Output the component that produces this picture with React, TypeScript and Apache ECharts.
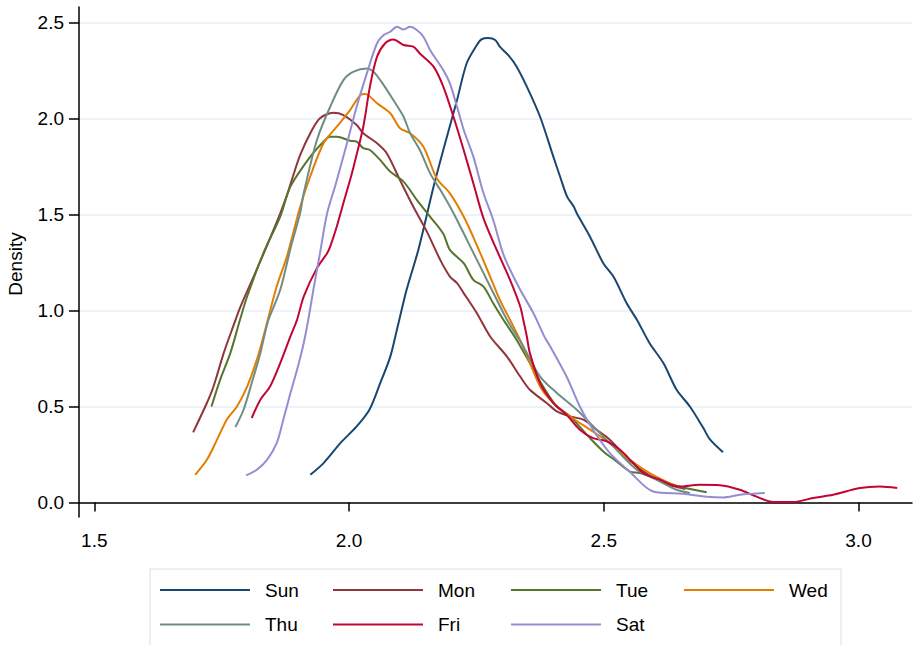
import React, { useEffect, useRef } from "react";
import * as echarts from "echarts";

const seriesNames = ["Sun", "Mon", "Tue", "Wed", "Thu", "Fri", "Sat"];
const seriesColors = ["#1a476f", "#90353b", "#55752f", "#e37e00", "#6e8e84", "#c10534", "#938dd2"];

const xTicks = [1.5, 2.0, 2.5, 3.0];
const yTicks = [0, 0.5, 1.0, 1.5, 2.0, 2.5];
const yTitle = "Density";

const sunData = [
  [1.924, 0.144], [1.95, 0.205], [1.983, 0.309], [2.015, 0.396], [2.04, 0.483], [2.061, 0.62],
  [2.081, 0.76], [2.094, 0.9], [2.113, 1.108], [2.136, 1.316], [2.166, 1.646], [2.185, 1.837],
  [2.212, 2.097], [2.231, 2.289], [2.251, 2.384], [2.26, 2.413], [2.273, 2.42], [2.287, 2.41],
  [2.296, 2.375], [2.313, 2.33], [2.329, 2.271], [2.349, 2.167], [2.375, 2.01], [2.401, 1.802],
  [2.414, 1.7], [2.428, 1.594], [2.441, 1.542], [2.447, 1.507], [2.473, 1.385], [2.499, 1.247],
  [2.519, 1.177], [2.545, 1.038], [2.565, 0.952], [2.59, 0.83], [2.617, 0.726], [2.643, 0.587],
  [2.669, 0.5], [2.695, 0.39], [2.708, 0.33], [2.734, 0.262],
];

const monData = [
  [1.694, 0.365], [1.721, 0.518], [1.734, 0.604], [1.754, 0.778], [1.773, 0.92], [1.786, 1.014],
  [1.813, 1.178], [1.839, 1.339], [1.865, 1.507], [1.878, 1.6], [1.89, 1.7], [1.904, 1.81],
  [1.924, 1.924], [1.943, 2.002], [1.969, 2.031], [1.989, 2.019], [2.015, 1.967], [2.028, 1.924],
  [2.055, 1.872], [2.074, 1.82], [2.1, 1.68], [2.126, 1.542], [2.153, 1.41], [2.179, 1.264],
  [2.198, 1.177], [2.212, 1.143], [2.225, 1.091], [2.251, 0.986], [2.277, 0.865], [2.31, 0.76],
  [2.336, 0.656], [2.355, 0.587], [2.388, 0.518], [2.408, 0.474], [2.434, 0.448], [2.46, 0.431],
  [2.486, 0.379], [2.512, 0.327], [2.55, 0.22], [2.59, 0.14], [2.63, 0.09], [2.66, 0.07],
];

const tueData = [
  [1.73, 0.5], [1.747, 0.639], [1.767, 0.778], [1.786, 0.952], [1.8, 1.073], [1.832, 1.299],
  [1.865, 1.49], [1.885, 1.646], [1.924, 1.802], [1.95, 1.88], [1.963, 1.906], [1.976, 1.906],
  [2.002, 1.885], [2.015, 1.88], [2.028, 1.846], [2.041, 1.837], [2.061, 1.785], [2.081, 1.724],
  [2.107, 1.672], [2.133, 1.577], [2.159, 1.49], [2.185, 1.4], [2.198, 1.316], [2.225, 1.247],
  [2.244, 1.16], [2.264, 1.125], [2.283, 1.038], [2.303, 0.952], [2.329, 0.847], [2.355, 0.726],
  [2.381, 0.604], [2.408, 0.5], [2.434, 0.448], [2.473, 0.335], [2.499, 0.266], [2.525, 0.214],
  [2.551, 0.161], [2.571, 0.153], [2.61, 0.118], [2.648, 0.083], [2.702, 0.053],
];

const wedData = [
  [1.698, 0.144], [1.721, 0.222], [1.741, 0.327], [1.76, 0.431], [1.78, 0.5], [1.8, 0.604],
  [1.819, 0.743], [1.832, 0.865], [1.858, 1.125], [1.878, 1.281], [1.904, 1.54], [1.924, 1.7],
  [1.95, 1.872], [1.976, 1.958], [2.002, 2.045], [2.022, 2.123], [2.032, 2.129], [2.055, 2.08],
  [2.081, 2.028], [2.1, 1.95], [2.12, 1.924], [2.146, 1.854], [2.172, 1.69], [2.198, 1.611],
  [2.225, 1.49], [2.251, 1.34], [2.277, 1.177], [2.296, 1.056], [2.316, 0.952], [2.342, 0.8125],
  [2.375, 0.604], [2.401, 0.518], [2.434, 0.448], [2.473, 0.379], [2.512, 0.309], [2.551, 0.222],
  [2.59, 0.153], [2.629, 0.101], [2.648, 0.083],
];

const thuData = [
  [1.777, 0.393], [1.793, 0.483], [1.809, 0.622], [1.826, 0.778], [1.835, 0.882], [1.842, 0.952],
  [1.865, 1.108], [1.886, 1.333], [1.904, 1.507], [1.911, 1.611], [1.937, 1.889], [1.963, 2.062],
  [1.989, 2.201], [2.009, 2.245], [2.035, 2.262], [2.048, 2.245], [2.068, 2.175], [2.087, 2.097],
  [2.107, 2.01], [2.12, 1.924], [2.139, 1.837], [2.159, 1.716], [2.179, 1.629], [2.198, 1.542],
  [2.212, 1.472], [2.238, 1.333], [2.264, 1.195], [2.29, 1.056], [2.31, 0.952], [2.342, 0.8125],
  [2.375, 0.656], [2.408, 0.57], [2.447, 0.483], [2.486, 0.379], [2.525, 0.274], [2.565, 0.17],
  [2.604, 0.118], [2.643, 0.066], [2.669, 0.049],
];

const friData = [
  [1.809, 0.44], [1.826, 0.535], [1.845, 0.604], [1.865, 0.726], [1.885, 0.865], [1.898, 0.952],
  [1.911, 1.073], [1.937, 1.221], [1.957, 1.299], [1.963, 1.333], [1.976, 1.438], [1.989, 1.56],
  [2.002, 1.68], [2.009, 1.75], [2.028, 1.958], [2.041, 2.167], [2.055, 2.323], [2.071, 2.393],
  [2.087, 2.413], [2.107, 2.384], [2.126, 2.375], [2.139, 2.34], [2.166, 2.271], [2.185, 2.167],
  [2.205, 2.01], [2.225, 1.837], [2.244, 1.663], [2.264, 1.48], [2.287, 1.333], [2.316, 1.16],
  [2.336, 1.021], [2.342, 0.952], [2.349, 0.865], [2.355, 0.778], [2.375, 0.622], [2.401, 0.518],
  [2.427, 0.457], [2.453, 0.379], [2.479, 0.335], [2.506, 0.318], [2.532, 0.274], [2.558, 0.205],
  [2.578, 0.153], [2.61, 0.118], [2.648, 0.083], [2.688, 0.092], [2.728, 0.09], [2.767, 0.066],
  [2.8, 0.03], [2.833, 0.002], [2.872, 0.002], [2.911, 0.023], [2.95, 0.04], [3.003, 0.075],
  [3.042, 0.083], [3.076, 0.075],
];

const satData = [
  [1.798, 0.141], [1.819, 0.17], [1.839, 0.222], [1.858, 0.309], [1.871, 0.431], [1.885, 0.57],
  [1.898, 0.691], [1.911, 0.83], [1.92, 0.952], [1.93, 1.108], [1.943, 1.299], [1.957, 1.507],
  [1.974, 1.66], [1.996, 1.872], [2.015, 2.062], [2.035, 2.236], [2.055, 2.393], [2.068, 2.436],
  [2.081, 2.453], [2.094, 2.479], [2.107, 2.465], [2.12, 2.479], [2.133, 2.462], [2.146, 2.427],
  [2.159, 2.358], [2.185, 2.253], [2.198, 2.184], [2.212, 2.062], [2.225, 1.942], [2.244, 1.802],
  [2.264, 1.611], [2.283, 1.472], [2.3, 1.316], [2.31, 1.247], [2.336, 1.108], [2.362, 0.986],
  [2.385, 0.856], [2.395, 0.8125], [2.427, 0.656], [2.453, 0.5], [2.479, 0.379], [2.512, 0.257],
  [2.551, 0.16], [2.597, 0.057], [2.656, 0.045], [2.702, 0.03], [2.735, 0.026], [2.767, 0.04],
  [2.816, 0.049],
];

const allData = [sunData, monData, tueData, wedData, thuData, friData, satData];

const FONT = "'Liberation Sans', Arial, sans-serif";

export default function App() {
  const ref = useRef<HTMLDivElement>(null);

  useEffect(() => {
    document.body.style.margin = "0";
    const chart = echarts.init(ref.current!, null, { renderer: "svg" });

    const legendCols = [160, 333, 511, 684];
    const legendRows = [590, 624.5];
    const legendGraphics: any[] = [];
    seriesNames.forEach((name, i) => {
      const col = legendCols[i % 4];
      const row = legendRows[Math.floor(i / 4)];
      legendGraphics.push({
        type: "line",
        shape: { x1: col, y1: row, x2: col + 90, y2: row },
        style: { stroke: seriesColors[i], lineWidth: 2 },
      });
      legendGraphics.push({
        type: "text",
        x: col + 105,
        y: row,
        style: {
          text: name,
          fill: "#000",
          font: `19px ${FONT}`,
          textAlign: "left",
          textVerticalAlign: "middle",
        },
      });
    });

    chart.setOption({
      animation: false,
      backgroundColor: "#ffffff",
      grid: { left: 79, right: 2, top: 7, bottom: 128, containLabel: false },
      xAxis: {
        type: "value",
        min: 1.47,
        max: 3.105,
        axisLine: { show: true, lineStyle: { color: "#000", width: 1.5 } },
        axisTick: { show: true, length: 9, lineStyle: { color: "#000", width: 1.5 }, customValues: xTicks },
        axisLabel: {
          customValues: xTicks,
          margin: 14,
          color: "#000",
          fontSize: 19,
          fontFamily: FONT,
          formatter: (v: number) => v.toFixed(1),
        },
        splitLine: { show: false },
      },
      yAxis: {
        type: "value",
        min: -0.076,
        max: 2.582,
        axisLine: { show: true, lineStyle: { color: "#000", width: 1.5 } },
        axisTick: { show: true, length: 10, lineStyle: { color: "#000", width: 1.5 }, customValues: yTicks },
        axisLabel: {
          customValues: yTicks,
          margin: 15,
          color: "#000",
          fontSize: 19,
          fontFamily: FONT,
          formatter: (v: number) => v.toFixed(1),
        },
        splitLine: { show: true, lineStyle: { color: "#e4eef8", width: 1.5 } },
      },
      graphic: [
        {
          type: "text",
          x: 15,
          y: 264,
          rotation: Math.PI / 2,
          style: {
            text: yTitle,
            fill: "#000",
            font: `19px ${FONT}`,
            textAlign: "center",
            textVerticalAlign: "middle",
          },
        },
        {
          type: "rect",
          shape: { x: 150, y: 569, width: 691, height: 90 },
          style: { fill: "none", stroke: "#e3ecf5", lineWidth: 1.5 },
        },
        ...legendGraphics,
      ],
      series: seriesNames.map((name, i) => ({
        name,
        type: "line",
        data: allData[i],
        showSymbol: false,
        symbol: "none",
        smooth: 0.3,
        lineStyle: { color: seriesColors[i], width: 2 },
        itemStyle: { color: seriesColors[i] },
      })),
    });

    return () => chart.dispose();
  }, []);

  return (
    <div
      ref={ref}
      style={{ position: "fixed", left: 0, top: 0, width: 914, height: 645 }}
    />
  );
}
